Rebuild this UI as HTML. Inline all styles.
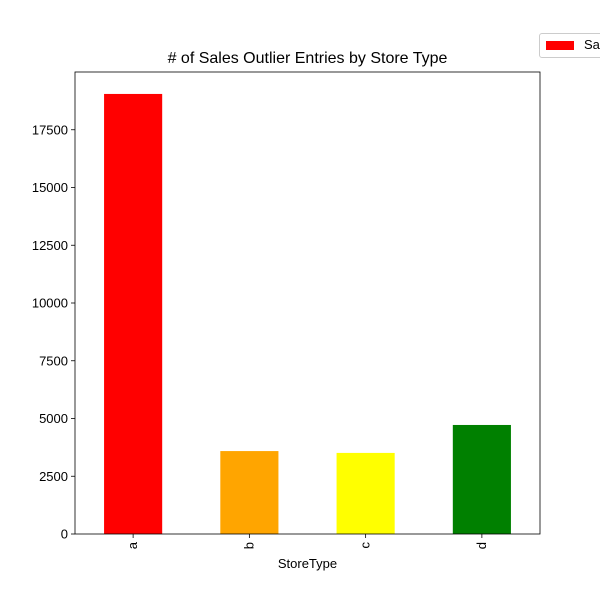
<!DOCTYPE html>
<html><head><meta charset="utf-8"><style>body{margin:0;background:#fff}svg{display:block;font-family:"Liberation Sans","DejaVu Sans",sans-serif}</style></head>
<body>
<svg id="c" width="600" height="600"></svg>
<script>
const categories = ["a","b","c","d"];
const salesValues = [19050, 3590, 3510, 4720];
const barColors = ["#ff0000","#ffa500","#ffff00","#008000"];
const yTicks = [0,2500,5000,7500,10000,12500,15000,17500];
const NS="http://www.w3.org/2000/svg";
const svg=document.getElementById('c');
const L=75,R=540,T=72,B=534;
const yMax=20000;
const y=v=>B-(v/yMax)*(B-T);
const step=(R-L)/categories.length;
const x=i=>L+step*(i+0.5);
function mk(t,a,p){const e=document.createElementNS(NS,t);for(const k in a)e.setAttribute(k,a[k]);(p||svg).appendChild(e);return e;}
categories.forEach((c,i)=>{
  const r=mk('rect',{x:x(i)-step/4,y:y(salesValues[i]),width:step/2,height:B-y(salesValues[i]),fill:barColors[i]});
  
  
  mk('line',{x1:x(i),x2:x(i),y1:B,y2:B+4,stroke:'#000','stroke-width':0.8});
  const t=mk('text',{x:x(i)+4,y:B+8,'font-size':13,'text-anchor':'end',transform:`rotate(-90 ${x(i)+4} ${B+8})`});
  t.textContent=c;
  
  
});
yTicks.forEach(v=>{
  mk('line',{x1:L-4,x2:L,y1:y(v),y2:y(v),stroke:'#000','stroke-width':0.8});
  const t=mk('text',{x:L-7,y:y(v)+4.5,'font-size':13,'text-anchor':'end'});
  t.textContent=v;
  
  
});
const f=mk('rect',{x:L,y:T,width:R-L,height:B-T,fill:'none',stroke:'#000','stroke-width':0.8});


</script>
<div style="position:absolute;left:0;top:0;width:600px;height:600px;pointer-events:none;font-family:'Liberation Sans','DejaVu Sans',sans-serif">
<div style="position:absolute;left:75px;width:465px;top:50px;text-align:center;font-size:16px">
# of Sales Outlier Entries by Store Type</div>
<div style="position:absolute;left:75px;width:465px;top:556px;text-align:center;font-size:13px">StoreType</div>
<div style="position:absolute;left:539px;top:33px;width:80px;height:23px;border:1px solid #ccc;border-radius:3px;background:#fff;font-size:13px">
<span style="position:absolute;left:6px;top:7px;width:28px;height:9px;background:#ff0000"></span>
<span style="position:absolute;left:44px;top:3px">Sales</span></div>
</div>
</body></html>
